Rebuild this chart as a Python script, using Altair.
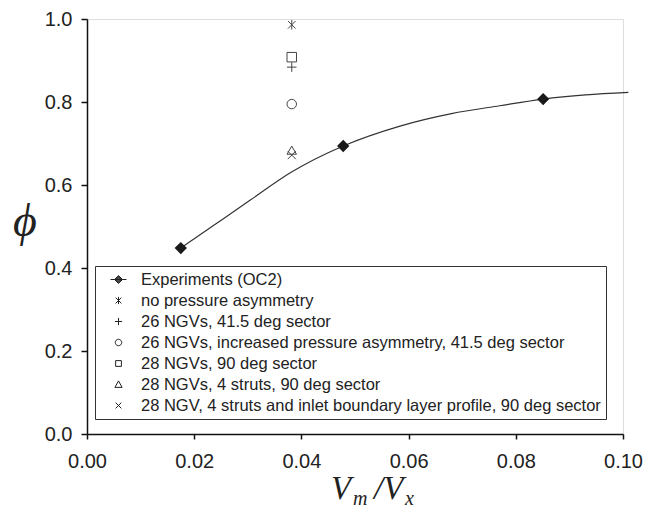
import altair as alt
import pandas as pd

# ---- data ----
series_names = [
    "Experiments (OC2)",
    "no pressure asymmetry",
    "26 NGVs, 41.5 deg sector",
    "26 NGVs, increased pressure asymmetry, 41.5 deg sector",
    "28 NGVs, 90 deg sector",
    "28 NGVs, 4 struts, 90 deg sector",
    "28 NGV, 4 struts and inlet boundary layer profile, 90 deg sector",
]
exp_x = [0.0175, 0.0478, 0.0851]
exp_y = [0.448, 0.694, 0.807]

sim_x = [0.0382, 0.0382, 0.0382, 0.0382, 0.0382, 0.0382]
sim_y = [0.986, 0.884, 0.795, 0.908, 0.684, 0.672]

curve_x = [0.0175, 0.024, 0.0304, 0.038, 0.0478, 0.0584, 0.068, 0.077, 0.0851, 0.093, 0.101]
curve_y = [0.448, 0.506, 0.563, 0.630, 0.694, 0.742, 0.772, 0.791, 0.807, 0.817, 0.823]

x_ticks = [0.0, 0.02, 0.04, 0.06, 0.08, 0.10]
y_ticks = [0.0, 0.2, 0.4, 0.6, 0.8, 1.0]

# ---- marker shapes ----
ASTER = "M0,-1L0,1M-0.8,-0.8L0.8,0.8M-0.8,0.8L0.8,-0.8"
PLUS = "M-1,0L1,0M0,-1L0,1"
XMARK = "M-0.85,-0.85L0.85,0.85M-0.85,0.85L0.85,-0.85"
plot_shapes = [ASTER, PLUS, "circle", "square", "triangle-up", XMARK]

s = 0.45
# filled-looking diamond for the legend: nested outlines plus a line through it
dia = "M-1,0L1,0" + "".join(
    f"M0,-{r}L{r},0L0,{r}L-{r},0Z" for r in [0.5, 0.4, 0.3, 0.2, 0.1]
)
leg_shapes = [
    dia,
    f"M0,-{s}L0,{s}M-{s*0.8},-{s*0.8}L{s*0.8},{s*0.8}M-{s*0.8},{s*0.8}L{s*0.8},-{s*0.8}",
    f"M-{s},0L{s},0M0,-{s}L0,{s}",
    f"M{s*0.9},0A{s*0.9},{s*0.9} 0 1,1 -{s*0.9},0A{s*0.9},{s*0.9} 0 1,1 {s*0.9},0Z",
    f"M-{s*0.8},-{s*0.8}H{s*0.8}V{s*0.8}H-{s*0.8}Z",
    f"M0,-{s}L{s},{s*0.8}L-{s},{s*0.8}Z",
    f"M-{s*0.8},-{s*0.8}L{s*0.8},{s*0.8}M-{s*0.8},{s*0.8}L{s*0.8},-{s*0.8}",
]

exp_df = pd.DataFrame({"x": exp_x, "y": exp_y})
sim_df = pd.DataFrame({"x": sim_x, "y": sim_y, "series": series_names[1:]})
curve_df = pd.DataFrame({"x": curve_x, "y": curve_y})
legend_df = pd.DataFrame({"x": [-1.0] * 7, "y": [0.5] * 7, "series": series_names})

FONT = "Liberation Sans"
SERIF = "Liberation Serif"

xscale = alt.Scale(domain=[0, 0.1], nice=False)
yscale = alt.Scale(domain=[0, 1], nice=False)

xaxis = alt.Axis(values=x_ticks, format=".2f", title=None, grid=False,
                 labelFontSize=20, labelFont=FONT, labelColor="#222",
                 tickSize=5, labelPadding=12, domainColor="#111", tickColor="#111",
                 domainWidth=1.5, tickWidth=1.5, labelFlush=False)
yaxis = alt.Axis(values=y_ticks, format=".1f", title=None, grid=False,
                 labelFontSize=20, labelFont=FONT, labelColor="#222",
                 tickSize=6, labelPadding=9, domainColor="#111", tickColor="#111",
                 domainWidth=1.5, tickWidth=1.5, labelFlush=False)

X = alt.X("x:Q", scale=xscale, axis=xaxis)
Y = alt.Y("y:Q", scale=yscale, axis=yaxis)

curve = alt.Chart(curve_df).mark_line(
    interpolate="monotone", color="#333", strokeWidth=1.2
).encode(x=X, y=Y)

exp_pts = alt.Chart(exp_df).mark_point(
    shape="diamond", filled=True, fill="#1a1a1a", stroke="#1a1a1a",
    size=90, opacity=1
).encode(x=X, y=Y)

sim_pts = alt.Chart(sim_df).mark_point(
    filled=False, stroke="#444", strokeWidth=1, size=90, opacity=1
).encode(
    x=X, y=Y,
    shape=alt.Shape("series:N", scale=alt.Scale(domain=series_names[1:], range=plot_shapes),
                    legend=None),
)

leg = alt.Legend(
    title=None, orient="none", legendX=8, legendY=247,
    strokeColor="#333", fillColor="white", padding=5,
    labelFont=FONT, labelFontSize=16.5, labelColor="#222", labelLimit=600,
    symbolStrokeColor="#222", symbolFillColor="transparent", symbolStrokeWidth=1,
    symbolSize=256, rowPadding=4, symbolOffset=10, labelOffset=14,
)

legend_layer = alt.Chart(legend_df).mark_point(
    clip=True, filled=False, size=256, stroke="#222", strokeWidth=1, opacity=1
).encode(
    x=X, y=Y,
    shape=alt.Shape("series:N", scale=alt.Scale(domain=series_names, range=leg_shapes),
                    legend=leg, sort=series_names),
)

# axis titles as text
title_df = pd.DataFrame({"t": ["\u03d5"]})
phi = alt.Chart(title_df).mark_text(
    font=SERIF, fontSize=46, fontStyle="italic", color="#222",
    align="center", baseline="middle"
).encode(x=alt.value(-62), y=alt.value(203), text="t:N")

def part(txt, xpos, ypos, size):
    return alt.Chart(pd.DataFrame({"t": [txt]})).mark_text(
        font=SERIF, fontSize=size, fontStyle="italic", color="#222",
        align="left", baseline="alphabetic"
    ).encode(x=alt.value(xpos), y=alt.value(ypos), text="t:N")

xt = (part("V", 244, 480, 33) + part("m", 266, 486, 20)
      + part("/V", 287, 480, 33) + part("x", 318, 486, 20))

chart = alt.layer(
    curve, exp_pts, sim_pts, legend_layer, phi, xt
).resolve_scale(shape="independent").properties(
    width=536, height=415,
    padding={"left": 87, "top": 19, "right": 32, "bottom": 77},
    autosize=alt.AutoSizeParams(type="none"),
).configure_view(stroke="#111", strokeWidth=1.5).configure(background="white")

chart.save("out.html", embed_options={"renderer": "svg", "actions": False})
